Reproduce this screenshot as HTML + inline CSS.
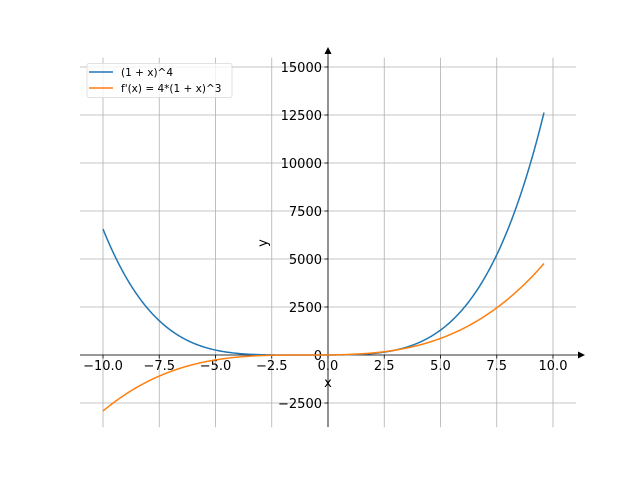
<!DOCTYPE html>
<html><head><meta charset="utf-8"><style>
html,body{margin:0;padding:0;background:#fff;}
svg{display:block;font-family:"DejaVu Sans","Liberation Sans",sans-serif;}
</style></head><body>
<svg id="s" width="640" height="480" viewBox="0 0 640 480" xmlns="http://www.w3.org/2000/svg">
<g id="grid" stroke="#b0b0b0" stroke-width="0.8"></g>
<g id="ticks" stroke="#000" stroke-width="0.8"></g>
<g id="labels" font-size="13" fill="#000"></g>
<line x1="80" y1="355" x2="583" y2="355" stroke="#000" stroke-width="0.8"/>
<line x1="328" y1="427" x2="328" y2="51" stroke="#000" stroke-width="0.8"/>
<polygon points="585,355 578,351.5 578,358.5" fill="#000"/>
<polygon points="328,47 324.5,54 331.5,54" fill="#000"/>
<path id="p1" fill="none" stroke="#1f77b4" stroke-width="1.5"/>
<path id="p2" fill="none" stroke="#ff7f0e" stroke-width="1.5"/>
<text x="328" y="387" font-size="13" text-anchor="middle">x</text>
<text x="267" y="243" font-size="13" text-anchor="middle" transform="rotate(-90 267 243)">y</text>
<rect x="87" y="63.5" width="145" height="34" rx="2" fill="#fff" fill-opacity="0.8" stroke="#d9d9d9" stroke-width="0.8"/>
<line x1="89" y1="72" x2="113" y2="72" stroke="#1f77b4" stroke-width="1.5"/>
<line x1="89" y1="88" x2="113" y2="88" stroke="#ff7f0e" stroke-width="1.5"/>
<text x="121" y="76" font-size="10.5">(1 + x)^4</text>
<text x="121" y="92" font-size="10.5">f'(x) = 4*(1 + x)^3</text>
</svg>
<script>
var X=function(v){return 328+v*22.5},Y=function(v){return 355-v*0.0192};
var g=document.getElementById('grid'),t=document.getElementById('ticks'),l=document.getElementById('labels');
var ns='http://www.w3.org/2000/svg';
function el(p,n,a,txt){var e=document.createElementNS(ns,n);for(var k in a)e.setAttribute(k,a[k]);if(txt!=null)e.textContent=txt;p.appendChild(e);}
for(var v=-10;v<=10;v+=2.5){var x=X(v);
el(g,'line',{x1:x,y1:57.6,x2:x,y2:427.2});
el(t,'line',{x1:x,y1:355,x2:x,y2:358.5});
el(l,'text',{x:x,y:370,'text-anchor':'middle'},(v<0?'\u2212':'')+Math.abs(v).toFixed(1));}
for(var v=-2500;v<=15000;v+=2500){var y=Y(v);
el(g,'line',{x1:80,y1:y,x2:576,y2:y});
el(t,'line',{x1:328,y1:y,x2:324.5,y2:y});
el(l,'text',{x:322,y:y+5,'text-anchor':'end'},(v<0?'\u2212':'')+Math.abs(v));}
var a='',b='';
for(var i=0;i<=400;i++){var x=-10+19.6*i/400;
a+=(i?'L':'M')+X(x).toFixed(2)+' '+Y(Math.pow(1+x,4)).toFixed(2);
b+=(i?'L':'M')+X(x).toFixed(2)+' '+Y(4*Math.pow(1+x,3)).toFixed(2);}
document.getElementById('p1').setAttribute('d',a);
document.getElementById('p2').setAttribute('d',b);
</script>
</body></html>
